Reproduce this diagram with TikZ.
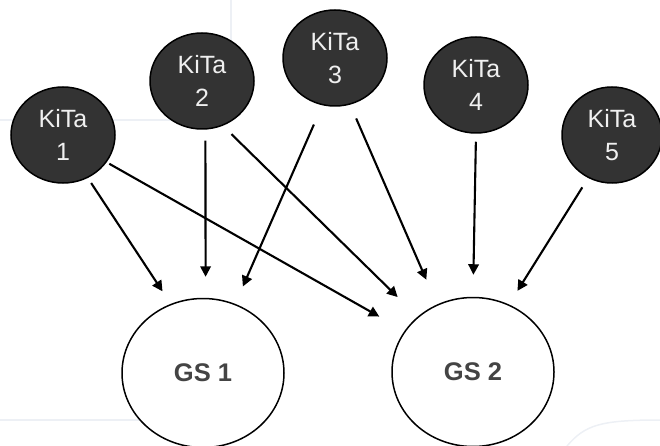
\documentclass[tikz,border=0pt]{standalone}
\usepackage{fontspec}
\setmainfont{Liberation Sans}
\usepackage{tikz}
\usetikzlibrary{arrows.meta, shapes.geometric}
\definecolor{kitagray}{HTML}{333333}
\definecolor{gstext}{HTML}{444444}
\definecolor{backline}{HTML}{EDF0F5}

\begin{document}
\begin{tikzpicture}[x=1pt, y=-1pt,
		kita/.style={ellipse, draw=black, line width=1.5pt, fill=kitagray, text=white!94!black,
			minimum width=104pt, minimum height=96pt, inner sep=0pt, align=center,
			font=\fontsize{25}{33}\selectfont},
		school/.style={ellipse, draw=black, line width=1.5pt, fill=white, text=gstext,
			minimum width=162pt, minimum height=149pt, inner sep=0pt,
			font=\fontsize{25.5}{30}\selectfont\bfseries},
		feed/.style={line width=2.1pt, -{Triangle[length=10.5pt, width=10.5pt]}}]
			\useasboundingbox (0,0) rectangle (660,446);
			
			% faint lines of the slide background
			\draw [backline, line width=1.5pt] (231,0)--(231,120)--(0,120);
			\draw [backline, line width=1.5pt] (0,420)--(140,420);
			\draw [backline, line width=1.5pt] (567,446) .. controls (585,425) and (600,420) .. (660,420);
			
			\node [kita] (k1) at (63,135) {KiTa\\1};
			\node [kita] (k2) at (202,81) {KiTa\\2};
			\node [kita] (k3) at (335,58) {KiTa\\3};
			\node [kita] (k4) at (476,85) {KiTa\\4};
			\node [kita, minimum width=100pt] (k5) at (612,135) {KiTa\\5};
			
			\node [school] (gs1) at (203,373) {GS 1};
			\node [school] (gs2) at (473,372) {GS 2};
			
			\foreach \from/\a/\to/\b/\s/\e in {k1/-60/gs1/115/6/15, k1/-32/gs2/149/3/29,
				k2/-86/gs1/88/11/21, k2/-65/gs2/135/12/28, k3/-105/gs1/65/21/19,
				k3/-72/gs2/118/15/27, k4/-90/gs2/90/8/22, k5/-119/gs2/62/11/16}{
				\draw [feed, shorten <=\s pt, shorten >=\e pt] (\from.\a)--(\to.\b);
			}
		\end{tikzpicture}
\end{document}
